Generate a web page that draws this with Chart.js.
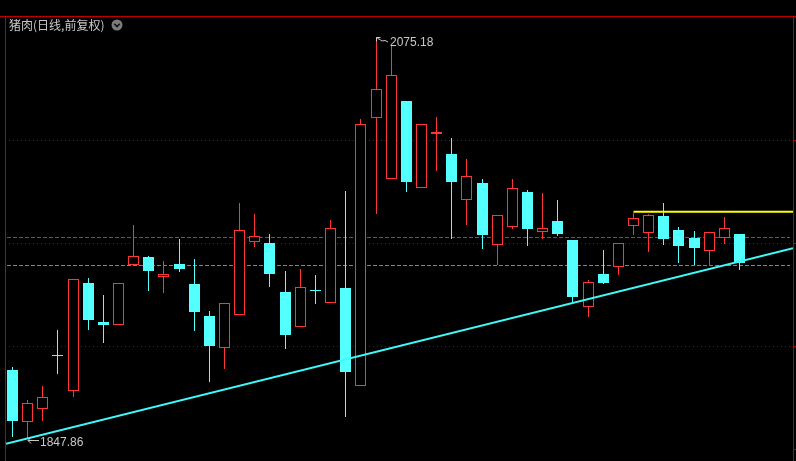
<!DOCTYPE html>
<html>
<head>
<meta charset="utf-8">
<script src="https://cdn.jsdelivr.net/npm/chart.js@4.4.1/dist/chart.umd.min.js"></script>
<style>
  html, body { margin:0; padding:0; background:#000; width:796px; height:461px; overflow:hidden; }
  #wrap { position:relative; width:796px; height:461px; }
  #c { position:absolute; left:0; top:0; }
  #title { position:absolute; left:9px; top:19px; font-family:"Noto Sans CJK SC", sans-serif; font-size:12px; line-height:12px; color:#c8c8c8; white-space:nowrap; }
  #icon { position:absolute; left:111px; top:19px; width:12px; height:12px; }
</style>
</head>
<body>
<div id="wrap">
  <canvas id="c" width="796" height="461"></canvas>
  <div id="title">猪肉(日线,前复权)</div>
  <svg id="icon" viewBox="0 0 12 12"><circle cx="6" cy="6" r="5.5" fill="#7c7c7c"/><path d="M3.3 4.8 L6 7.5 L8.7 4.8" stroke="#111" stroke-width="1.6" fill="none"/></svg>
</div>
<script>
// ---- data (daily candles, price) ----
const opens  = [1886.58,1857.27,1864.64,1894.51,1874.84,1935.90,1913.79,1912.26,1946.27,1950.64,
                1939.47,1946.67,1935.33,1917.19,1898.88,1917.59,1958.97,1958.57,1930.80,1910.78,
                1931.19,1924.39,1933.06,1877.34,2029.60,1995.02,2039.07,1989.92,2020.19,2009.02,
                1982.78,1992.59,1957.27,1967.47,1987.48,1964.64,1971.04,1960.27,1922.12,1941.00,
                1945.14,1968.38,1964.41,1973.88,1965.94,1961.41,1954.21,1961.58,1963.67];
const closes = [1857.84,1867.70,1871.10,1894.51,1937.99,1915.09,1912.26,1935.90,1951.20,1942.87,
                1941.00,1944.00,1919.63,1900.35,1924.39,1965.77,1962.37,1941.17,1906.59,1933.46,
                1931.19,1966.91,1885.61,2025.86,2045.70,2053.64,1993.32,2025.86,2021.33,1993.32,
                1996.55,1963.28,1974.44,1989.75,1966.68,1967.08,1963.84,1928.13,1936.29,1936.07,
                1958.40,1972.57,1974.27,1960.84,1956.87,1955.74,1964.64,1966.91,1947.23];
const highs  = [1888.28,1869.57,1877.51,1909.25,1937.99,1938.73,1929.09,1935.90,1968.78,1951.37,
                1948.37,1960.84,1949.50,1920.02,1924.39,1981.25,1975.01,1963.67,1942.70,1943.83,
                1940.43,1971.61,1988.05,2028.70,2075.18,2070.25,2039.07,2025.86,2030.00,2018.09,
                2006.19,1994.85,1974.44,1994.85,1988.62,1986.92,1982.95,1960.27,1937.60,1954.60,
                1958.40,1975.41,1974.84,1981.25,1967.64,1965.38,1964.64,1973.31,1963.67];
const lows   = [1848.77,1847.86,1857.84,1884.48,1871.44,1909.25,1902.05,1912.26,1946.27,1931.53,
                1930.40,1942.30,1908.86,1879.95,1887.31,1917.59,1956.47,1933.80,1898.65,1910.78,
                1924.16,1924.39,1860.10,1877.34,1974.84,1995.02,1987.48,1989.92,1999.56,1960.56,
                1968.95,1955.34,1946.27,1966.68,1957.04,1961.01,1962.71,1925.30,1916.79,1935.50,
                1940.60,1963.28,1953.64,1957.44,1947.40,1945.93,1945.70,1958.18,1943.27];
const days = opens.map((_, i) => i);

// horizontal reference levels
const gridLevels   = [2016.79, 1958.40, 1900.01];
const tickLevels   = [2016.79, 1958.40, 1900.01, 1841.62];
const purpleLevel  = 1961.80;
const blueLevel    = 1945.93;
const resistLevel  = 1976.26;
const resistStart  = 41;
// trend line anchors: [day index, price]
const trendA = [1, 1847.86];
const trendB = [37, 1924.67];

// axis range
const X_MIN = -0.42916, X_MAX = 51.5318;
const Y_MIN = 1834.99, Y_MAX = 2086.69;

// ---- styles ----
const UP = '#ff3636', DOWN = '#54ffff';
const isUp = days.map(i => closes[i] > opens[i]);

const bodyData = days.map(i => ({x: i, y: [opens[i], closes[i]]}));
const wickData = days.map(i => ({x: i, y: [lows[i], highs[i]]}));
const trendSlope = (trendB[1] - trendA[1]) / (trendB[0] - trendA[0]);
const trendAt = d => trendA[1] + (d - trendA[0]) * trendSlope;
const trendData = [{x: X_MIN, y: trendAt(X_MIN)}, {x: X_MAX, y: trendAt(X_MAX)}];
const resistData = [{x: resistStart, y: resistLevel}, {x: X_MAX, y: resistLevel}];

// snap candle elements to the pixel grid so the 1px outlines and wicks stay crisp
const snap = {
  id: 'snap',
  beforeDatasetsDraw(chart) {
    chart.data.datasets.forEach((ds, k) => {
      if (ds.type === 'line') return;
      chart.getDatasetMeta(k).data.forEach(el => {
        el.x = Math.floor(el.x) + 0.5;
        const top = Math.min(el.y, el.base), bot = Math.max(el.y, el.base);
        const t = Math.round(top), b = Math.max(Math.round(bot), t + 1);
        if (el.y <= el.base) { el.y = t; el.base = b; } else { el.y = b; el.base = t; }
      });
    });
  }
};

const overlay = {
  id: 'overlay',
  beforeDatasetsDraw(chart) {
    const {ctx, chartArea: a, scales: {y}} = chart;
    ctx.save();
    ctx.lineWidth = 1;
    ctx.strokeStyle = '#a00000';
    ctx.setLineDash([1, 3]);
    gridLevels.forEach(v => {
      const py = Math.round(y.getPixelForValue(v)) + 0.5;
      ctx.beginPath(); ctx.moveTo(a.left + 3, py); ctx.lineTo(a.right, py); ctx.stroke();
    });
    ctx.setLineDash([4, 2]);
    [[purpleLevel, '#a826b0'], [blueLevel, '#4f8fd0']].forEach(([v, c]) => {
      const py = Math.round(y.getPixelForValue(v)) + 0.5;
      ctx.strokeStyle = c;
      ctx.beginPath(); ctx.moveTo(a.left + 1, py); ctx.lineTo(a.right - 3, py); ctx.stroke();
    });
    ctx.restore();
  },
  afterDatasetsDraw(chart) {
    const {ctx, scales: {x, y}} = chart;
    ctx.save();
    ctx.strokeStyle = '#c8c8c8';
    ctx.fillStyle = '#c8c8c8';
    ctx.lineWidth = 1;
    ctx.font = '12px "Liberation Sans", Arial, sans-serif';
    ctx.textBaseline = 'middle';
    let hi = 0, lo = 0;
    days.forEach(i => { if (highs[i] > highs[hi]) hi = i; if (lows[i] < lows[lo]) lo = i; });
    // highest high marker
    const hx = Math.floor(x.getPixelForValue(hi)), hy = Math.round(y.getPixelForValue(highs[hi]));
    ctx.beginPath();
    ctx.moveTo(hx + 0.5, hy + 0.5); ctx.lineTo(hx + 4.5, hy + 0.5);
    ctx.moveTo(hx + 0.5, hy + 0.5); ctx.lineTo(hx + 0.5, hy + 4.5);
    ctx.moveTo(hx + 0.5, hy + 0.5); ctx.lineTo(hx + 6, hy + 4); ctx.lineTo(hx + 9, hy + 3.5); ctx.lineTo(hx + 12, hy + 5);
    ctx.stroke();
    ctx.fillText(highs[hi].toFixed(2), hx + 14, hy + 5.5);
    // lowest low marker
    const lx = Math.floor(x.getPixelForValue(lo)), ly = Math.round(y.getPixelForValue(lows[lo]));
    ctx.beginPath();
    ctx.moveTo(lx + 1, ly + 2.5); ctx.lineTo(lx + 12, ly + 2.5);
    ctx.moveTo(lx + 1, ly + 2.5); ctx.lineTo(lx + 4, ly - 0.5);
    ctx.moveTo(lx + 1, ly + 2.5); ctx.lineTo(lx + 4, ly + 5.5);
    ctx.stroke();
    ctx.fillText(lows[lo].toFixed(2), lx + 13, ly + 5);
    ctx.restore();
  },
  afterDraw(chart) {
    const {ctx, scales: {y}} = chart;
    ctx.save();
    ctx.fillStyle = '#c00000';
    ctx.fillRect(0, 16, 796, 1);
    ctx.fillRect(5, 16, 1, 445);
    ctx.fillRect(793, 16, 1, 445);
    tickLevels.forEach(v => ctx.fillRect(794, Math.round(y.getPixelForValue(v)), 2, 1));
    ctx.restore();
  }
};

new Chart(document.getElementById('c'), {
  type: 'bar',
  data: {
    datasets: [
      { type: 'line', data: trendData, borderColor: '#40f8f8', borderWidth: 2, pointRadius: 0, order: -2 },
      { type: 'line', data: resistData, borderColor: '#ffff00', borderWidth: 2, pointRadius: 0, order: -1 },
      { data: bodyData, grouped: false, barThickness: 11, minBarLength: 1, borderSkipped: false, borderWidth: 1,
        inflateAmount: 0,
        backgroundColor: days.map(i => isUp[i] ? '#000000' : DOWN),
        borderColor: days.map(i => isUp[i] ? UP : DOWN), order: 0 },
      { data: wickData, grouped: false, barThickness: 1, borderWidth: 0, inflateAmount: 0,
        backgroundColor: days.map(i => isUp[i] ? UP : DOWN), order: 1 }
    ]
  },
  options: {
    responsive: false,
    animation: false,
    layout: { padding: { left: 6, right: 3, top: 17, bottom: 0 } },
    plugins: { legend: { display: false }, tooltip: { enabled: false } },
    scales: {
      x: { type: 'linear', min: X_MIN, max: X_MAX, display: false, offset: false },
      y: { min: Y_MIN, max: Y_MAX, display: false }
    }
  },
  plugins: [snap, overlay]
});
</script>
</body>
</html>
